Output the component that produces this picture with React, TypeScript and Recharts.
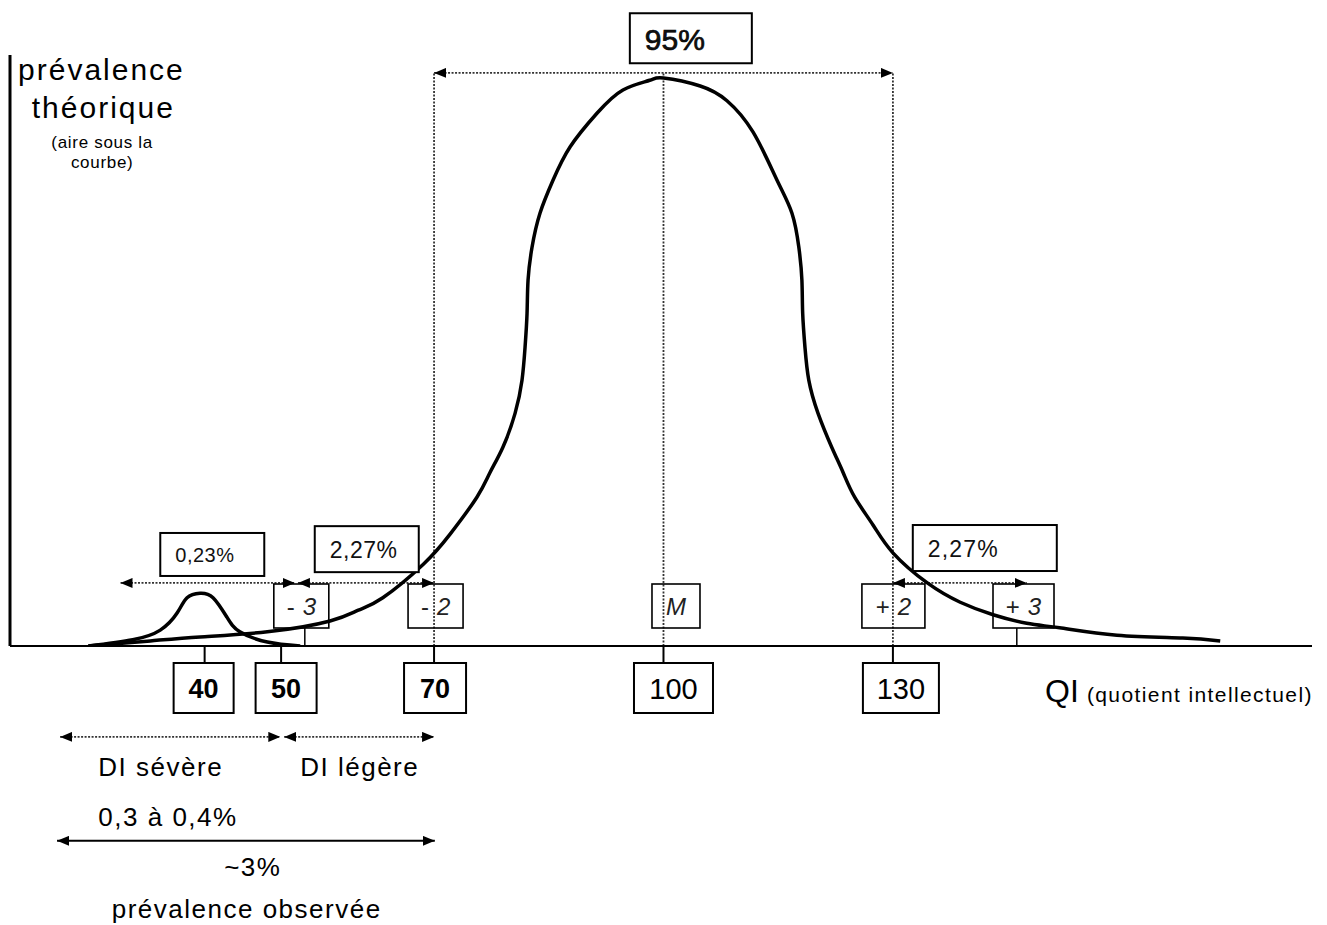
import React from 'react';
import {
  ComposedChart,
  Line,
  XAxis,
  YAxis,
  ReferenceLine,
  ReferenceDot,
} from 'recharts';

const FONT = '"Liberation Sans", Arial, Helvetica, sans-serif';

// Courbe de Gauss théorique : QI et hauteur (en % du pic)
const bellIq = [24.8, 32.9, 39.4, 48.2, 56.4, 60.1, 63.3, 68.6, 72.1, 75.6, 77.3, 79.0, 80.6, 81.5, 81.9, 82.16, 82.29, 82.81, 83.85, 85.55, 87.8, 91.3, 94.7, 98.2, 100, 104.8, 108.3, 111.7, 114.85, 116.8, 117.7, 118.1, 118.2, 118.5, 119.0, 120.2, 122.0, 123.5, 125.0, 127.4, 130, 134.5, 138.8, 143.1, 147.5, 151.8, 159.3, 167.9, 172.8];
const bellValues = [0, 0.9, 1.6, 2.5, 4.4, 6.3, 8.5, 14.4, 19.7, 26.2, 30.5, 35.0, 41.0, 46.8, 52.6, 58.6, 64.4, 70.2, 76.2, 82.0, 87.9, 93.8, 97.9, 99.6, 100, 98.6, 96.0, 90.5, 82.0, 76.2, 70.2, 64.4, 58.6, 52.6, 46.8, 41.0, 35.0, 30.5, 26.2, 21.3, 16.4, 11.1, 7.7, 5.5, 4.0, 3.2, 1.9, 1.4, 0.9];

// Petite bosse (DI sévère)
const bumpIq = [24.8, 30.6, 34.2, 36.4, 37.7, 39.4, 41.1, 42.9, 44.6, 48.2, 52.5];
const bumpValues = [0, 1.1, 2.8, 5.8, 8.5, 9.3, 8.5, 5.1, 2.5, 0.7, 0];

// Graduations
const qiTicks = [40, 50, 70, 100, 130];
const sigmaTicks = [53.1, 70, 100, 130, 146.2];
const sigmaLabels = ['- 3', '- 2', 'M', '+ 2', '+ 3'];

const bellData = bellIq.map((iq, i) => ({ iq, v: bellValues[i] }));
const bumpData = bumpIq.map((iq, i) => ({ iq, v: bumpValues[i] }));

// box styling for the QI ticks (offset of box centre, width, weight)
const qiBox: Record<number, { dx: number; w: number; bold: boolean; size: number }> = {
  40: { dx: -1, w: 60, bold: true, size: 27 },
  50: { dx: 5, w: 61, bold: true, size: 27 },
  70: { dx: 1, w: 62, bold: true, size: 27 },
  100: { dx: 10, w: 79, bold: false, size: 29 },
  130: { dx: 8, w: 76, bold: false, size: 29 },
};
const sigmaBox = [
  { dx: -3.5, w: 55, stem: true },
  { dx: 1.5, w: 55, stem: false },
  { dx: 12.5, w: 48, stem: false },
  { dx: 0.5, w: 63, stem: false },
  { dx: 6.7, w: 61, stem: true },
];

const QiTick = (props: any) => {
  const { x, y, payload } = props;
  const s = qiBox[payload.value];
  if (!s) return null;
  return (
    <g>
      <line x1={x} y1={y} x2={x} y2={y + 17} stroke="#000" strokeWidth={2} />
      <rect x={x + s.dx - s.w / 2} y={y + 17} width={s.w} height={50} fill="#fff" stroke="#000" strokeWidth={2} />
      <text
        x={x + s.dx}
        y={y + 43}
        textAnchor="middle"
        dominantBaseline="central"
        fontFamily={FONT}
        fontSize={s.size}
        fontWeight={s.bold ? 'bold' : 'normal'}
        fill="#000"
      >
        {payload.value}
      </text>
    </g>
  );
};

const SigmaTick = (props: any) => {
  const { x, index } = props;
  const y = props.y - 1;
  const s = sigmaBox[index];
  const label = sigmaLabels[index];
  const [sign, num] = label.split(' ');
  return (
    <g>
      {s.stem && <line x1={x} y1={y - 18} x2={x} y2={y} stroke="#000" strokeWidth={1.5} />}
      <rect x={x + s.dx - s.w / 2} y={y - 62} width={s.w} height={44} fill="none" stroke="#000" strokeWidth={1.6} />
      <text
        x={x + s.dx}
        y={y - 40}
        textAnchor="middle"
        dominantBaseline="central"
        fontFamily={FONT}
        fontSize={24}
        fill="#222"
      >
        {num === undefined ? (
          <tspan fontStyle="italic">{sign}</tspan>
        ) : (
          <>
            <tspan>{sign}</tspan>
            <tspan dx={8} fontStyle="italic">{num}</tspan>
          </>
        )}
      </text>
    </g>
  );
};

// percentage boxes: anchored at their top-left corner (QI, height)
const pctBoxes = [
  { label: '0,23%', iq: 34.2, v: 19.9, w: 104, h: 43, size: 20, spacing: 0.5, heavy: false },
  { label: '2,27%', iq: 54.4, v: 21.1, w: 104, h: 46, size: 23, spacing: 0.5, heavy: false },
  { label: '2,27%', iq: 132.6, v: 21.3, w: 144, h: 46, size: 23, spacing: 1.2, heavy: false },
  { label: '95%', iq: 95.6, v: 111.4, w: 122, h: 50, size: 30, spacing: 0, heavy: true },
];

// free texts (QI, height, anchor)
const notes = [
  { text: 'prévalence', iq: 15.6, v: 99.6, anchor: 'start', size: 30, spacing: 2 },
  { text: 'théorique', iq: 17.4, v: 93.0, anchor: 'start', size: 30, spacing: 2 },
  { text: '(aire sous la', iq: 26.6, v: 87.7, anchor: 'middle', size: 17, spacing: 0.7 },
  { text: 'courbe)', iq: 26.6, v: 84.2, anchor: 'middle', size: 17, spacing: 0.7 },
  { text: 'DI sévère', iq: 26.1, v: -22.9, anchor: 'start', size: 26, spacing: 1.5 },
  { text: 'DI légère', iq: 52.5, v: -22.9, anchor: 'start', size: 26, spacing: 1.5 },
  { text: '0,3 à 0,4%', iq: 26.1, v: -31.7, anchor: 'start', size: 26, spacing: 1.5 },
  { text: '~3%', iq: 46.3, v: -40.5, anchor: 'middle', size: 26, spacing: 1.5 },
  { text: 'prévalence observée', iq: 45.5, v: -47.9, anchor: 'middle', size: 26, spacing: 1.5 },
];

// double arrows: [from QI, to QI, height, dotted]
const arrows: [number, number, number, boolean][] = [
  [70, 130, 100.9, true],
  [29.0, 51.8, 11.1, true],
  [52.2, 70, 11.1, true],
  [130, 147.5, 11.1, true],
  [21.1, 49.9, -16.0, true],
  [50.4, 70, -16.0, true],
  [20.7, 70.1, -34.3, false],
];

const guides = [70, 100, 130];

const App = () => {
  return (
    <div>
      <style>{'body{margin:0;background:#fff}'}</style>
      <svg width={0} height={0} style={{ position: 'absolute' }}>
        <defs>
          <marker
            id="ah"
            viewBox="0 0 12 10"
            refX={12}
            refY={5}
            markerWidth={12}
            markerHeight={10}
            markerUnits="userSpaceOnUse"
            orient="auto-start-reverse"
          >
            <path d="M0,0 L12,5 L0,10 z" fill="#000" />
          </marker>
        </defs>
      </svg>
      <ComposedChart width={1327} height={925} margin={{ top: 55, right: 15, bottom: 277, left: 9 }}>
        <XAxis
          xAxisId="qi"
          type="number"
          dataKey="iq"
          domain={[14.55, 184.8]}
          allowDataOverflow
          ticks={qiTicks}
          interval={0}
          height={1}
          tickSize={0}
          tickMargin={0}
          tickLine={false}
          axisLine={{ stroke: '#000', strokeWidth: 2 }}
          tick={<QiTick />}
        />
        <XAxis
          xAxisId="sigma"
          type="number"
          dataKey="iq"
          domain={[14.55, 184.8]}
          allowDataOverflow
          ticks={sigmaTicks}
          interval={0}
          height={1}
          tickSize={0}
          tickMargin={0}
          tickLine={false}
          axisLine={false}
          tick={<SigmaTick />}
        />
        <YAxis
          type="number"
          domain={[0, 104.05]}
          allowDataOverflow
          width={1}
          tick={false}
          tickLine={false}
          axisLine={{ stroke: '#000', strokeWidth: 3 }}
        />

        {guides.map((g) => (
          <ReferenceLine
            key={`g-${g}`}
            xAxisId="qi"
            segment={[{ x: g, y: 0 }, { x: g, y: 100.9 }]}
            ifOverflow="visible"
            stroke="#333"
            strokeWidth={1.8}
            strokeDasharray="2 1.5"
          />
        ))}

        {arrows.map(([a, b, v, dotted], i) => (
          <ReferenceLine
            key={`a-${i}`}
            xAxisId="qi"
            segment={[{ x: a, y: v }, { x: b, y: v }]}
            ifOverflow="visible"
            shape={(p: any) => (
              <line
                x1={p.x1}
                y1={p.y1}
                x2={p.x2}
                y2={p.y2}
                stroke={dotted ? '#333' : '#000'}
                strokeWidth={dotted ? 1.8 : 2}
                strokeDasharray={dotted ? '2 1.5' : undefined}
                markerStart="url(#ah)"
                markerEnd="url(#ah)"
              />
            )}
          />
        ))}

        {pctBoxes.map((b, i) => (
          <ReferenceDot
            key={`b-${i}`}
            xAxisId="qi"
            x={b.iq}
            y={b.v}
            r={0}
            ifOverflow="visible"
            shape={(p: any) => (
              <g>
                <rect x={p.cx} y={p.cy} width={b.w} height={b.h} fill="#fff" stroke="#000" strokeWidth={2} />
                <text
                  x={p.cx + 15}
                  y={p.cy + b.h / 2 + 1}
                  dominantBaseline="central"
                  fontFamily={FONT}
                  fontSize={b.size}
                  letterSpacing={b.spacing}
                  fill="#111"
                  stroke={b.heavy ? '#000' : 'none'}
                  strokeWidth={b.heavy ? 0.7 : 0}
                >
                  {b.label}
                </text>
              </g>
            )}
          />
        ))}

        {notes.map((n, i) => (
          <ReferenceDot
            key={`n-${i}`}
            xAxisId="qi"
            x={n.iq}
            y={n.v}
            r={0}
            ifOverflow="visible"
            shape={(p: any) => (
              <text
                x={p.cx}
                y={p.cy}
                textAnchor={n.anchor}
                fontFamily={FONT}
                fontSize={n.size}
                letterSpacing={n.spacing}
                fill="#000"
              >
                {n.text}
              </text>
            )}
          />
        ))}

        <ReferenceDot
          xAxisId="qi"
          x={149.9}
          y={-9.86}
          r={0}
          ifOverflow="visible"
          shape={(p: any) => (
            <text x={p.cx} y={p.cy} fontFamily={FONT} fill="#000">
              <tspan fontSize={32}>QI</tspan>
              <tspan fontSize={21} dx={8} letterSpacing={1.4}>
                (quotient intellectuel)
              </tspan>
            </text>
          )}
        />

        <Line
          xAxisId="qi"
          data={bumpData}
          dataKey="v"
          type="natural"
          stroke="#000"
          strokeWidth={3.5}
          dot={false}
          activeDot={false}
          isAnimationActive={false}
        />
        <Line
          xAxisId="qi"
          data={bellData}
          dataKey="v"
          type="natural"
          stroke="#000"
          strokeWidth={3.5}
          dot={false}
          activeDot={false}
          isAnimationActive={false}
        />
      </ComposedChart>
    </div>
  );
};

export default App;
